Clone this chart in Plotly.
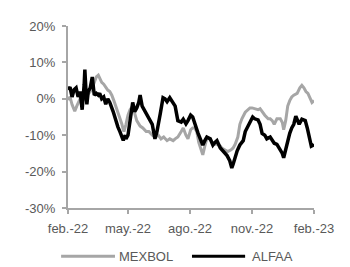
import datetime as dt
import plotly.graph_objects as go

START = dt.date(2022, 2, 1)

# ALFAA (black) – day offset from 1 Feb 2022, % change
alfaa_days = [0,3,6,9,12,15,18,21,24,25,
              27,28,30,33,36,39,42,45,47,50,
              53,56,59,62,67,70,74,77,80,82,
              85,86,89,92,96,99,102,105,107,110,
              113,117,122,125,129,132,137,141,144,147,
              151,154,159,163,168,171,175,178,182,185,
              188,193,196,200,203,206,211,215,218,221,
              226,230,236,240,243,245,248,251,255,260,
              263,266,270,274,277,282,285,288,292,295,
              300,303,306,310,313,318,320,323,326,329,
              332,335,338,340,343,347,352,355,358,361,
              364,365]
alfaa_vals = [2.5,3.2,0.5,2.5,3.0,0.5,2.0,-3.0,4.0,8.0,
              1.0,-1.5,2.0,3.0,6.0,1.0,1.5,1.0,1.5,0.0,
              0.5,-1.5,0.0,-1.0,-3.5,-5.5,-7.7,-9.0,-10.5,-11.4,
              -10.0,-11.0,-10.0,-5.6,-1.0,-3.5,-2.5,-1.0,1.0,-2.0,
              -3.0,-4.5,-6.0,-7.0,-11.0,-9.0,-4.0,0.3,0.0,-0.8,
              0.3,-0.5,-2.0,-6.0,-6.4,-5.6,-6.9,-6.0,-4.5,-5.0,
              -7.0,-9.5,-10.9,-12.7,-11.5,-10.5,-11.0,-12.7,-12.0,-11.5,
              -13.5,-14.3,-15.6,-17.0,-19.0,-18.0,-16.0,-14.3,-12.7,-11.5,
              -9.0,-8.0,-6.5,-5.0,-5.5,-5.8,-7.0,-9.5,-10.0,-11.0,
              -10.5,-11.5,-12.2,-12.5,-13.5,-15.0,-16.2,-14.0,-11.0,-9.5,
              -8.0,-7.0,-4.8,-5.5,-7.0,-5.6,-6.0,-8.0,-11.0,-13.0,
              -12.7,-12.5]

# MEXBOL (gray)
mexbol_days = [0,3,6,9,10,13,18,22,25,28,
               33,36,39,42,45,47,50,53,56,59,
               62,65,68,71,74,77,80,82,83,86,
               89,92,96,99,102,107,111,116,120,125,
               129,134,138,142,147,151,156,159,163,168,
               171,175,178,182,185,188,191,194,197,200,
               203,206,211,215,221,226,228,233,237,242,
               245,248,252,255,258,263,267,270,273,277,
               282,285,288,292,297,300,303,306,310,315,
               318,320,323,326,329,332,335,340,344,347,
               350,353,356,359,362,365]
mexbol_vals = [-0.3,0.5,-1.6,-3.0,-3.4,-2.0,0.0,-0.5,0.5,1.0,
               2.0,3.0,4.5,6.0,6.5,5.5,4.5,4.0,3.0,2.4,
               2.0,1.0,-0.5,-2.0,-3.5,-5.0,-7.0,-8.5,-9.0,-7.0,
               -4.5,-3.0,-2.0,-4.0,-6.0,-7.5,-8.0,-9.0,-9.0,-10.0,
               -10.5,-10.0,-11.0,-10.5,-11.5,-11.0,-11.5,-11.0,-10.5,-9.0,
               -8.0,-10.0,-11.0,-8.5,-8.0,-8.0,-9.0,-12.0,-14.0,-15.4,
               -13.0,-11.0,-11.0,-12.5,-12.5,-13.0,-13.5,-14.0,-14.5,-14.0,
               -13.5,-12.5,-10.5,-7.0,-5.5,-3.7,-3.0,-2.5,-2.5,-2.7,
               -3.0,-2.7,-3.5,-4.5,-5.5,-5.5,-6.0,-7.0,-5.5,-5.5,
               -6.5,-8.5,-6.0,-2.0,-0.5,0.5,1.0,1.5,3.0,3.7,
               3.0,2.0,1.5,0.0,-1.0,-0.5]

tick_dates = ["2022-02-01", "2022-05-01", "2022-08-01", "2022-11-01", "2023-02-01"]
tick_labels = ["feb.-22", "may.-22", "ago.-22", "nov.-22", "feb.-23"]
y_ticks = [-30, -20, -10, 0, 10, 20]
y_labels = ["-30%", "-20%", "-10%", "0%", "10%", "20%"]
series_names = ["MEXBOL", "ALFAA"]

GRAY = "#A6A6A6"
BLACK = "#000000"
TXT = "#595959"
FONT = "Liberation Sans"


def to_dates(days):
    return [START + dt.timedelta(days=d) for d in days]


fig = go.Figure()
fig.add_trace(go.Scatter(x=to_dates(mexbol_days), y=mexbol_vals, mode="lines",
                         name=series_names[0], line=dict(color=GRAY, width=3)))
fig.add_trace(go.Scatter(x=to_dates(alfaa_days), y=alfaa_vals, mode="lines",
                         name=series_names[1], line=dict(color=BLACK, width=3.5)))

axis_col = "#A6A6A6"
fig.update_layout(
    width=342, height=259,
    margin=dict(l=60, r=36, t=11, b=59),
    paper_bgcolor="white", plot_bgcolor="white",
    showlegend=False,
    font=dict(family=FONT, size=13, color=TXT),
    xaxis=dict(range=[tick_dates[0], tick_dates[-1]], tickvals=tick_dates, ticktext=tick_labels,
               showgrid=False, zeroline=False, showline=True, linecolor=axis_col, linewidth=2,
               ticks="outside", ticklen=4, tickwidth=2, tickcolor=axis_col,
               ticklabelstandoff=3),
    yaxis=dict(range=[-30, 20], tickvals=y_ticks, ticktext=y_labels,
               showgrid=False, zeroline=False, showline=True, linecolor=axis_col, linewidth=2,
               ticks="outside", ticklen=4, tickwidth=2, tickcolor=axis_col,
               ticklabelstandoff=4),
)

# custom legend (long line samples as in the reference)
leg_y = -0.265
fig.add_shape(type="line", xref="paper", yref="paper", x0=-0.028, x1=0.191, y0=leg_y, y1=leg_y,
              line=dict(color=GRAY, width=3))
fig.add_shape(type="line", xref="paper", yref="paper", x0=0.504, x1=0.72, y0=leg_y, y1=leg_y,
              line=dict(color=BLACK, width=3))
fig.add_annotation(xref="paper", yref="paper", x=0.2, y=leg_y, text=series_names[0],
                   showarrow=False, xanchor="left", yanchor="middle",
                   font=dict(family=FONT, size=13, color=TXT))
fig.add_annotation(xref="paper", yref="paper", x=0.74, y=leg_y, text=series_names[1],
                   showarrow=False, xanchor="left", yanchor="middle",
                   font=dict(family=FONT, size=13, color=TXT))

fig.write_html("out.html")
